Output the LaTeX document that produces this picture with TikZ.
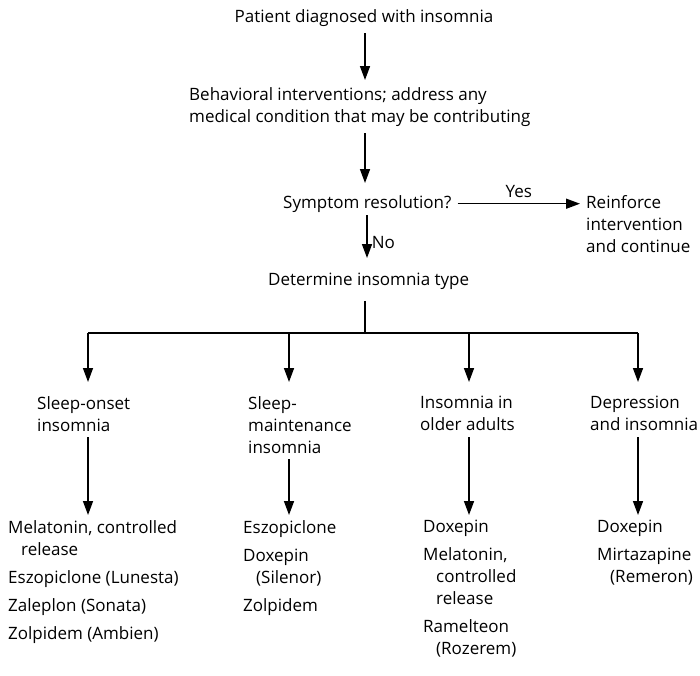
\documentclass[tikz,border=0pt]{standalone}
\usepackage{fontspec}
\setmainfont{Open Sans}
\usetikzlibrary{arrows.meta}

\begin{document}
\begin{tikzpicture}[x=1pt,y=-1pt,
    txt/.style={inner sep=0pt,align=left,font=\fontsize{17}{22}\selectfont},
    arr/.style={line width=1.5pt,-{Triangle[length=14pt,width=10pt]}},
    ln/.style={line width=1.5pt}]
  \useasboundingbox (0,0) rectangle (700,675);
  % columns of the connectors
  \coordinate (axis) at (365,0);
  \coordinate (split) at (365,333);
  \coordinate (c1) at (88,333);
  \coordinate (c2) at (289,333);
  \coordinate (c3) at (469,333);
  \coordinate (c4) at (638,333);

  \node[txt,anchor=north] (pat) at (364,9) {Patient diagnosed with insomnia};
  \node[txt,anchor=north west] (beh) at (189,87) {Behavioral interventions; address any\\medical condition that may be contributing};
  \node[txt,anchor=north west] (sym) at (283,195) {Symptom resolution?};
  \node[txt,anchor=north west] (rein) at (586,195) {Reinforce\\intervention\\and continue};
  \node[txt,anchor=north west] (det) at (268,273) {Determine insomnia type};

  \node[txt,anchor=north west] (ons) at (37,396) {Sleep-onset\\insomnia};
  \node[txt,anchor=north west] (mnt) at (248,396) {Sleep-\\maintenance\\insomnia};
  \node[txt,anchor=north west] (old) at (420,396) {Insomnia in\\older adults};
  \node[txt,anchor=north west] (dep) at (590,396) {Depression\\and insomnia};

  \node[txt,anchor=north west] (d1) at (8,520) {Melatonin, controlled\\\hspace*{13pt}release\\[6pt]Eszopiclone (Lunesta)\\[6pt]Zaleplon (Sonata)\\[6pt]Zolpidem (Ambien)};
  \node[txt,anchor=north west] (d2) at (243,520) {Eszopiclone\\[6pt]Doxepin\\\hspace*{13pt}(Silenor)\\[6pt]Zolpidem};
  \node[txt,anchor=north west] (d3) at (423,520) {Doxepin\\[6pt]Melatonin,\\\hspace*{13pt}controlled\\\hspace*{13pt}release\\[6pt]Ramelteon\\\hspace*{13pt}(Rozerem)};
  \node[txt,anchor=north west] (d4) at (597,520) {Doxepin\\[6pt]Mirtazapine\\\hspace*{13pt}(Remeron)};

  % main line
  \draw[arr,shorten <=7pt,shorten >=7pt] (pat.south -| axis) -- (beh.north -| axis);
  \draw[arr,shorten <=7pt,shorten >=12pt] (beh.south -| axis) -- (sym.north -| axis);
  \draw[arr,shorten <=6pt,shorten >=6pt] (sym.east) -- node[txt,above=5pt] {Yes} (sym.east -| rein.west);
  \draw[arr,shorten <=3pt,shorten >=15pt] ([xshift=2pt]sym.south -| axis) -- node[txt,right=4pt,pos=0.5] {No} ([xshift=2pt]det.north -| axis);

  % branches
  \draw[ln,shorten <=11pt] (det.south -| axis) -- (split);
  \draw[ln] (c1) -- (c4);
  \draw[arr,shorten >=14pt] (c1) -- (c1 |- ons.north);
  \draw[arr,shorten >=14pt] (c2) -- (c2 |- mnt.north);
  \draw[arr,shorten >=14pt] (c3) -- (c3 |- old.north);
  \draw[arr,shorten >=14pt] (c4) -- (c4 |- dep.north);

  \draw[arr,shorten <=6pt,shorten >=5pt] (c1 |- ons.south) -- (c1 |- d1.north);
  \draw[arr,shorten <=6pt,shorten >=5pt] (c2 |- mnt.south) -- (c2 |- d2.north);
  \draw[arr,shorten <=6pt,shorten >=5pt] (c3 |- old.south) -- (c3 |- d3.north);
  \draw[arr,shorten <=6pt,shorten >=5pt] (c4 |- dep.south) -- (c4 |- d4.north);
\end{tikzpicture}
\end{document}
